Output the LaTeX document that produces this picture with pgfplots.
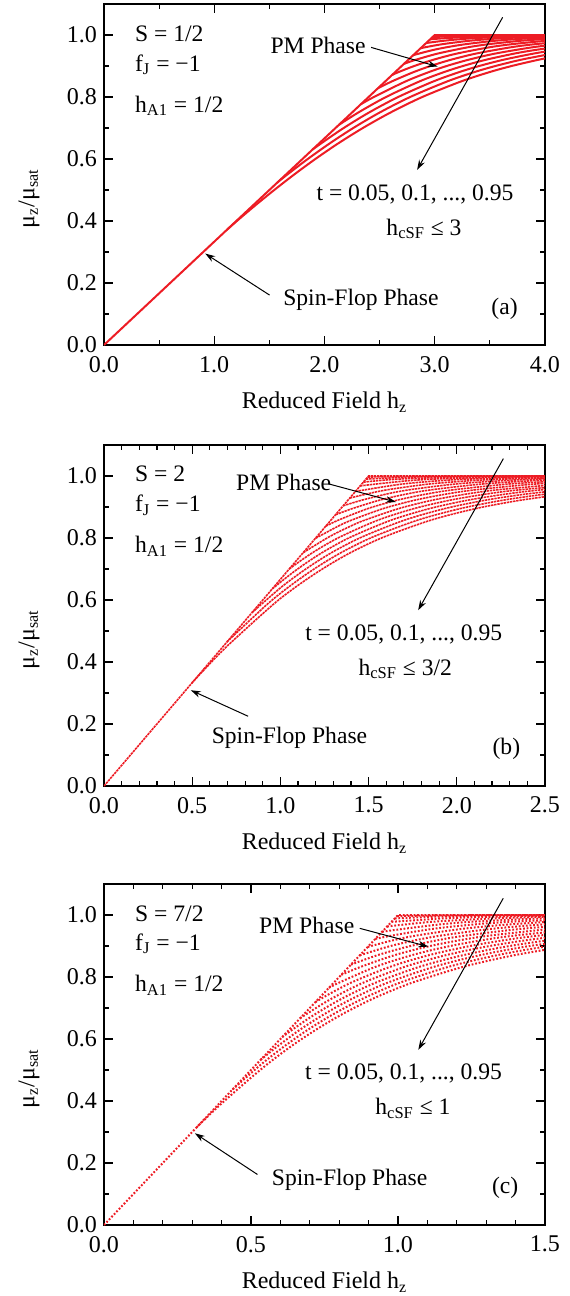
\documentclass[border=0pt]{standalone}
\usepackage{fontspec}
\setmainfont{Liberation Serif}
\usepackage{pgfplots}
\pgfplotsset{compat=1.18}
\usetikzlibrary{arrows.meta}
\definecolor{ored}{RGB}{237,28,36}
\newcommand\fs{\fontsize{11.8}{14}\selectfont}
\newcommand\fl{\fontsize{12}{14}\selectfont}
\tikzset{arr/.style={black, line width=0.5pt, -{Stealth[length=5pt,width=3.2pt]}}}
\pgfplotsset{
  panel/.style={
    scale only axis, width=220.5pt, height=170.5pt,
    ymin=0, ymax=1.1,
    ytick={0,0.2,0.4,0.6,0.8,1.0}, minor y tick num=1,
    tick align=inside,
    major tick length=4.5pt, minor tick length=2.5pt,
    every tick/.style={black, line width=0.6pt},
    axis line style={line width=0.8pt},
    /pgf/number format/assume math mode=true,
    /pgf/number format/fixed,
    /pgf/number format/fixed zerofill,
    /pgf/number format/precision=1,
    every tick label/.append style={font=\fl},
    every x tick label/.append style={yshift=-2pt},
    every axis label/.append style={font=\fl},
    xlabel={Reduced Field h\textsubscript{z}},
    ylabel={μ\textsubscript{z}/μ\textsubscript{sat}},
    every axis x label/.style={at={(axis description cs:0.5,0)}, yshift=-28.5pt, anchor=center, font=\fl},
    every axis y label/.style={at={(axis description cs:-0.17,0.43)}, rotate=90, anchor=center, font=\fl},
  },
  pmA/.style={ored, line width=1pt, smooth, no markers},
  pmB/.style={ored, line width=0.8pt, smooth, no markers, dash pattern=on 1.2pt off 0.4pt},
  pmC/.style={ored, line width=1pt, smooth, no markers, dash pattern=on 0.9pt off 0.9pt},
}
\begin{document}
\begin{tikzpicture}[font=\fs]
\useasboundingbox (-52pt,-646pt) rectangle (232.5pt,2pt);

% ---------------- (a) S = 1/2 ----------------
\begin{axis}[panel, at={(0,0)}, anchor=north west,
  xmin=0, xmax=4, xtick={0,1,2,3,4}, minor x tick num=1]
\addplot[pmA, sharp plot] coordinates {(0,0) (3,1) (4,1)};
\addplot[pmA] coordinates {(2.998,0.9993) (3.073,0.9995) (3.302,0.9998) (3.649,0.99995) (4.0,1.0)};
\addplot[pmA] coordinates {(2.992,0.9974) (3.070,0.998) (3.279,0.999) (3.488,0.9995) (3.763,0.9998) (4.1,0.9999)};
\addplot[pmA] coordinates {(2.979,0.993) (3.091,0.995) (3.415,0.998) (3.659,0.999) (3.90,0.9995) (4.2,0.9998)};
\addplot[pmA] coordinates {(2.958,0.986) (3.107,0.99) (3.391,0.995) (3.761,0.998) (4.039,0.999)};
\addplot[pmA] coordinates {(2.922,0.974) (3.048,0.98) (3.183,0.985) (3.372,0.99) (3.690,0.995) (4.106,0.998)};
\addplot[pmA] coordinates {(2.871,0.957) (2.906,0.96) (3.062,0.97) (3.278,0.98) (3.428,0.985) (3.637,0.99) (3.990,0.995) (4.247,0.997)};
\addplot[pmA] coordinates {(2.805,0.935) (2.965,0.95) (3.100,0.96) (3.272,0.97) (3.507,0.98) (3.672,0.985) (3.901,0.99) (4.289,0.995)};
\addplot[pmA] coordinates {(2.721,0.907) (2.827,0.92) (3.026,0.94) (3.295,0.96) (3.481,0.97) (3.737,0.98) (3.916,0.985) (4.166,0.99)};
\addplot[pmA] coordinates {(2.613,0.871) (2.669,0.88) (2.814,0.90) (2.986,0.92) (3.199,0.94) (3.490,0.96) (3.690,0.97) (3.967,0.98) (4.161,0.985)};
\addplot[pmA] coordinates {(2.484,0.828) (2.609,0.85) (2.806,0.88) (2.961,0.90) (3.145,0.92) (3.373,0.94) (3.684,0.96) (3.899,0.97) (4.197,0.98)};
\addplot[pmA] coordinates {(2.331,0.777) (2.448,0.80) (2.734,0.85) (2.944,0.88) (3.108,0.90) (3.304,0.92) (3.547,0.94) (3.879,0.96) (4.108,0.97)};
\addplot[pmA] coordinates {(2.130,0.710) (2.307,0.75) (2.558,0.80) (2.860,0.85) (3.081,0.88) (3.256,0.90) (3.462,0.92) (3.721,0.94) (3.881,0.95) (4.073,0.96)};
\addplot[pmA] coordinates {(1.890,0.630) (1.968,0.65) (2.174,0.70) (2.404,0.75) (2.668,0.80) (2.986,0.85) (3.219,0.88) (3.403,0.90) (3.621,0.92) (3.895,0.94) (4.064,0.95)};
\addplot[pmA] coordinates {(1.575,0.525) (1.663,0.55) (1.848,0.60) (2.046,0.65) (2.261,0.70) (2.501,0.75) (2.777,0.80) (3.111,0.85) (3.356,0.88) (3.550,0.90) (3.780,0.92) (4.068,0.94)};
\addplot[pmA] coordinates {(1.113,0.371) (1.205,0.40) (1.371,0.45) (1.544,0.50) (1.725,0.55) (1.917,0.60) (2.123,0.65) (2.348,0.70) (2.599,0.75) (2.887,0.80) (3.237,0.85) (3.494,0.88) (3.697,0.90) (3.939,0.92) (4.081,0.93)};
\node[anchor=base west] at (axis cs:0.218,0.980) {S = 1/2};
\node[anchor=base west] at (axis cs:0.218,0.883) {f\textsubscript{J} = −1};
\node[anchor=base west] at (axis cs:0.218,0.751) {h\textsubscript{A1} = 1/2};
\node[anchor=base west] at (axis cs:1.447,0.939) {PM Phase};
\node[anchor=base west] at (axis cs:1.864,0.467) {t = 0.05, 0.1, ..., 0.95};
\node[anchor=base west] at (axis cs:2.498,0.354) {h\textsubscript{cSF} ≤ 3};
\node[anchor=base west] at (axis cs:1.562,0.129) {Spin-Flop Phase};
\node[anchor=base west] at (axis cs:3.450,0.097) {(a)};
\draw[arr] (axis cs:2.423,0.960) -- (axis cs:3.027,0.898);
\draw[arr] (axis cs:3.616,1.057) -- (axis cs:2.840,0.565);
\draw[arr] (axis cs:1.502,0.161) -- (axis cs:0.918,0.295);
\end{axis}

% ---------------- (b) S = 2 ----------------
\begin{axis}[panel, at={(0,-220.5pt)}, anchor=north west,
  xmin=0, xmax=2.5, xtick={0,0.5,1,1.5,2,2.5}, minor x tick num=4]
\addplot[pmB, sharp plot] coordinates {(0,0) (1.5,1) (2.5,1)};
\addplot[pmB] coordinates {(1.495,0.9966) (1.699,0.99876) (1.900,0.99954) (2.1,0.99983) (2.5,0.99998)};
\addplot[pmB] coordinates {(1.485,0.990) (1.748,0.9966) (1.999,0.99876) (2.250,0.99954) (2.500,0.99983)};
\addplot[pmB] coordinates {(1.470,0.980) (1.542,0.9844) (1.695,0.9907) (1.998,0.9966) (2.299,0.99876) (2.600,0.99954)};
\addplot[pmB] coordinates {(1.452,0.968) (1.537,0.9738) (1.717,0.9844) (1.895,0.9907) (2.248,0.9966) (2.599,0.99876)};
\addplot[pmB] coordinates {(1.425,0.950) (1.478,0.9553) (1.687,0.9738) (1.892,0.9844) (2.095,0.9907) (2.498,0.9966) (2.899,0.99876)};
\addplot[pmB] coordinates {(1.394,0.929) (1.483,0.9411) (1.603,0.9553) (1.837,0.9738) (2.067,0.9844) (2.295,0.9907) (2.748,0.9966)};
\addplot[pmB] coordinates {(1.356,0.904) (1.461,0.9219) (1.596,0.9411) (1.728,0.9553) (1.987,0.9738) (2.242,0.9844) (2.495,0.9907) (2.998,0.9966)};
\addplot[pmB] coordinates {(1.3125,0.875) (1.410,0.8953) (1.561,0.9219) (1.708,0.9411) (1.853,0.9553) (2.137,0.9738) (2.417,0.9844) (2.695,0.9907)};
\addplot[pmB] coordinates {(1.257,0.838) (1.329,0.8578) (1.498,0.8953) (1.661,0.9219) (1.821,0.9411) (1.978,0.9553) (2.287,0.9738) (2.592,0.9844)};
\addplot[pmB] coordinates {(1.199,0.799) (1.329,0.8386) (1.404,0.8578) (1.585,0.8953) (1.761,0.9219) (1.933,0.9411) (2.103,0.9553) (2.437,0.9738) (2.767,0.9844)};
\addplot[pmB] coordinates {(1.130,0.753) (1.277,0.804) (1.399,0.8386) (1.479,0.8578) (1.673,0.8953) (1.861,0.9219) (2.046,0.9411) (2.228,0.9553) (2.587,0.9738)};
\addplot[pmB] coordinates {(1.050,0.700) (1.113,0.726) (1.205,0.7608) (1.340,0.804) (1.554,0.8578) (1.760,0.8953) (1.961,0.9219) (2.158,0.9411) (2.353,0.9553) (2.737,0.9738)};
\addplot[pmB] coordinates {(0.954,0.636) (1.063,0.6855) (1.163,0.726) (1.260,0.7608) (1.402,0.804) (1.629,0.8578) (1.848,0.8953) (2.061,0.9219) (2.271,0.9411) (2.478,0.9553) (2.887,0.9738)};
\addplot[pmB] coordinates {(0.840,0.560) (0.999,0.6387) (1.108,0.6855) (1.213,0.7260) (1.315,0.7608) (1.465,0.804) (1.704,0.8578) (1.935,0.8953) (2.161,0.9219) (2.383,0.9411) (2.603,0.9553)};
\addplot[pmB] coordinates {(0.697,0.465) (0.922,0.5846) (1.039,0.6387) (1.153,0.6855) (1.263,0.726) (1.370,0.7608) (1.527,0.804) (1.779,0.8578) (2.023,0.8953) (2.261,0.9219) (2.496,0.9411) (2.728,0.9553)};
\addplot[pmB] coordinates {(0.498,0.332) (0.567,0.3747) (0.701,0.4528) (0.957,0.5846) (1.079,0.6387) (1.198,0.6855) (1.313,0.7260) (1.425,0.7608) (1.590,0.8040) (1.854,0.8578) (2.110,0.8953) (2.361,0.9219) (2.608,0.9411)};
\node[anchor=base west] at (axis cs:0.136,0.981) {S = 2};
\node[anchor=base west] at (axis cs:0.136,0.884) {f\textsubscript{J} = −1};
\node[anchor=base west] at (axis cs:0.136,0.752) {h\textsubscript{A1} = 1/2};
\node[anchor=base west] at (axis cs:0.709,0.952) {PM Phase};
\node[anchor=base west] at (axis cs:1.101,0.470) {t = 0.05, 0.1, ..., 0.95};
\node[anchor=base west] at (axis cs:1.403,0.357) {h\textsubscript{cSF} ≤ 3/2};
\node[anchor=base west] at (axis cs:0.571,0.137) {Spin-Flop Phase};
\node[anchor=base west] at (axis cs:2.163,0.102) {(b)};
\draw[arr] (axis cs:1.271,0.975) -- (axis cs:1.655,0.916);
\draw[arr] (axis cs:2.264,1.056) -- (axis cs:1.781,0.567);
\draw[arr] (axis cs:0.817,0.225) -- (axis cs:0.492,0.309);
\end{axis}

% ---------------- (c) S = 7/2 ----------------
\begin{axis}[panel, at={(0,-440pt)}, anchor=north west,
  xmin=0, xmax=1.5, xtick={0,0.5,1,1.5}, minor x tick num=4]
\addplot[pmC, sharp plot] coordinates {(0,0) (1,1) (1.5,1)};
\addplot[pmC] coordinates {(0.9965,0.9965) (1.133,0.9986) (1.333,0.9996) (1.533,0.9999)};
\addplot[pmC] coordinates {(0.989,0.989) (1.132,0.9947) (1.266,0.9973) (1.400,0.9986) (1.667,0.9996)};
\addplot[pmC] coordinates {(0.978,0.978) (1.163,0.9894) (1.332,0.9947) (1.499,0.9973) (1.666,0.9986)};
\addplot[pmC] coordinates {(0.963,0.963) (1.023,0.9694) (1.126,0.9788) (1.330,0.9894) (1.532,0.9947)};
\addplot[pmC] coordinates {(0.946,0.946) (1.018,0.9553) (1.140,0.9694) (1.260,0.9788) (1.497,0.9894) (1.732,0.9947)};
\addplot[pmC] coordinates {(0.923,0.923) (0.978,0.9335) (1.118,0.9553) (1.257,0.9694) (1.393,0.9788) (1.663,0.9894)};
\addplot[pmC] coordinates {(0.897,0.897) (0.981,0.9180) (1.061,0.9335) (1.218,0.9553) (1.373,0.9694) (1.526,0.9788)};
\addplot[pmC] coordinates {(0.870,0.870) (0.966,0.8978) (1.056,0.9180) (1.145,0.9335) (1.318,0.9553) (1.490,0.9694) (1.660,0.9788)};
\addplot[pmC] coordinates {(0.840,0.840) (0.932,0.8710) (1.033,0.8978) (1.131,0.9180) (1.228,0.9335) (1.418,0.9553) (1.607,0.9694)};
\addplot[pmC] coordinates {(0.807,0.807) (0.878,0.8345) (0.990,0.8710) (1.099,0.8978) (1.206,0.9180) (1.311,0.9335) (1.518,0.9553)};
\addplot[pmC] coordinates {(0.765,0.765) (0.803,0.7833) (0.928,0.8345) (1.049,0.8710) (1.166,0.8978) (1.281,0.9180) (1.395,0.9335) (1.618,0.9553)};
\addplot[pmC] coordinates {(0.719,0.719) (0.761,0.7424) (0.844,0.7833) (0.978,0.8345) (1.107,0.8710) (1.233,0.8978) (1.356,0.9180) (1.478,0.9335) (1.718,0.9553)};
\addplot[pmC] coordinates {(0.667,0.667) (0.737,0.7096) (0.798,0.7424) (0.886,0.7833) (1.028,0.8345) (1.165,0.8710) (1.299,0.8978) (1.431,0.9180) (1.561,0.9335)};
\addplot[pmC] coordinates {(0.606,0.606) (0.636,0.6270) (0.704,0.6714) (0.770,0.7096) (0.834,0.7424) (0.928,0.7833) (1.078,0.8345) (1.224,0.8710) (1.366,0.8978) (1.506,0.9180) (1.645,0.9335)};
\addplot[pmC] coordinates {(0.533,0.533) (0.589,0.5756) (0.662,0.6270) (0.734,0.6714) (0.803,0.7096) (0.871,0.7424) (0.969,0.7833) (1.128,0.8345) (1.282,0.8710) (1.433,0.8978) (1.581,0.9180)};
\addplot[pmC] coordinates {(0.437,0.437) (0.532,0.5162) (0.612,0.5756) (0.689,0.6270) (0.764,0.6714) (0.837,0.7096) (0.908,0.7424) (1.011,0.7833) (1.178,0.8345) (1.340,0.8710) (1.499,0.8978) (1.656,0.9180)};
\addplot[pmC] coordinates {(0.315,0.315) (0.377,0.372) (0.466,0.4474) (0.552,0.5162) (0.635,0.5756) (0.716,0.6270) (0.794,0.6714) (0.870,0.7096) (0.944,0.7424) (1.053,0.7833) (1.228,0.8345) (1.399,0.8710) (1.566,0.8978)};
\node[anchor=base west] at (axis cs:0.082,0.978) {S = 7/2};
\node[anchor=base west] at (axis cs:0.082,0.887) {f\textsubscript{J} = −1};
\node[anchor=base west] at (axis cs:0.082,0.753) {h\textsubscript{A1} = 1/2};
\node[anchor=base west] at (axis cs:0.504,0.941) {PM Phase};
\node[anchor=base west] at (axis cs:0.660,0.468) {t = 0.05, 0.1, ..., 0.95};
\node[anchor=base west] at (axis cs:0.899,0.355) {h\textsubscript{cSF} ≤ 1};
\node[anchor=base west] at (axis cs:0.547,0.127) {Spin-Flop Phase};
\node[anchor=base west] at (axis cs:1.296,0.102) {(c)};
\draw[arr] (axis cs:0.870,0.957) -- (axis cs:1.103,0.898);
\draw[arr] (axis cs:1.358,1.054) -- (axis cs:1.069,0.565);
\draw[arr] (axis cs:0.522,0.163) -- (axis cs:0.309,0.296);
\end{axis}
\end{tikzpicture}
\end{document}
